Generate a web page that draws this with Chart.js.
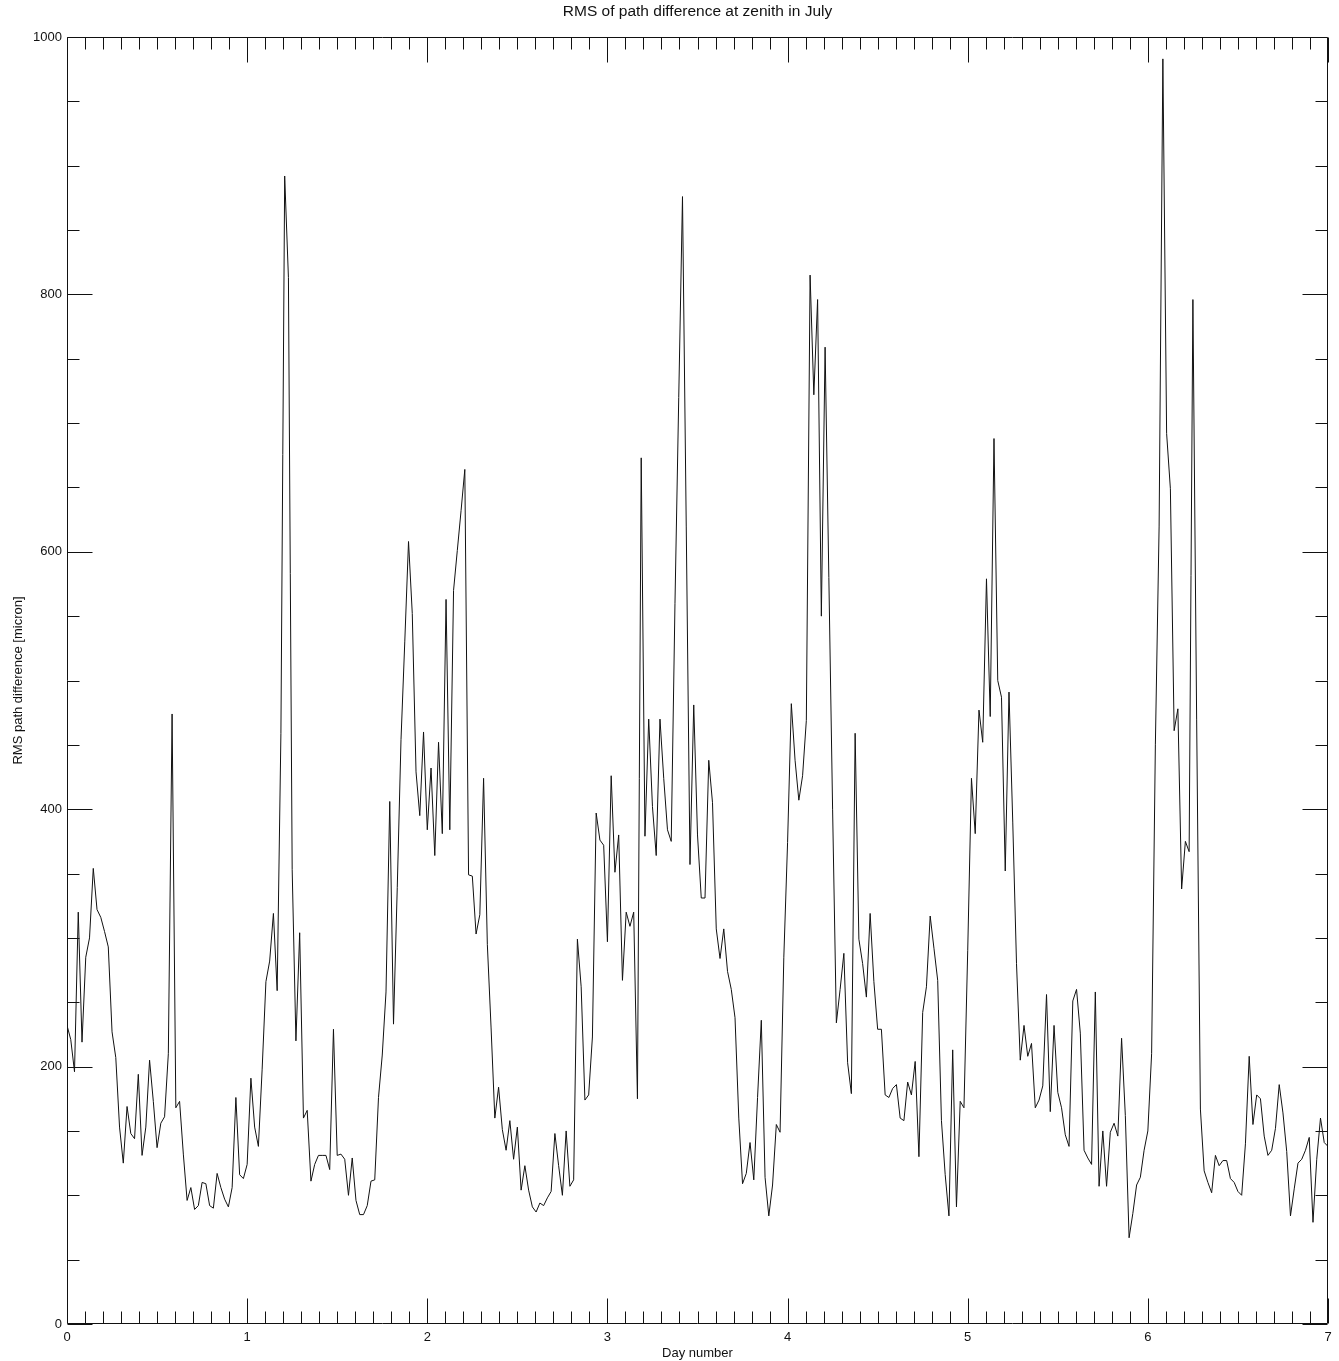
<!DOCTYPE html>
<html>
<head>
<meta charset="utf-8">
<script src="https://cdn.jsdelivr.net/npm/chart.js@4.4.1/dist/chart.umd.min.js"></script>
<style>
  html, body { margin: 0; padding: 0; background: #fff; }
  canvas { display: block; }
</style>
</head>
<body>
<canvas id="rmsChart" width="1339" height="1361"></canvas>
<script>
// RMS path difference, one sample every half hour (48 per day)
const samplesPerDay = 48;
const day0 = [232,221,196,320,219,285,300,354,322,316,305,293,227,207,153,125,169,148,144,194,
  131,153,205,173,137,156,161,210,474,168,173,132,96,106,89,92,110,109,92,90,117,106,97,91,106,176,116,113];
const day1 = [124,191,153,138,198,266,282,319,259,459,892,813,353,220,304,160,166,111,124,131,
  131,131,120,229,131,132,128,100,129,96,85,85,92,111,112,176,209,258,406,233,339,454,530,608,552,429,395,460];
const day2 = [384,432,364,452,381,563,384,570,601,632,664,349,348,303,318,424,295,230,160,184,
  151,135,158,128,153,104,123,104,91,87,94,92,98,103,148,123,100,150,107,112,299,262,174,178,223,397,376,372];
const day3 = [297,426,351,380,267,320,309,320,175,673,379,470,402,364,470,424,384,375,560,720,
  876,620,357,481,380,331,331,438,405,307,284,307,274,260,238,160,109,117,141,112,176,236,114,84,108,155,149,285];
const day4 = [374,482,438,407,426,469,815,722,796,550,759,580,400,234,260,288,203,179,459,299,
  280,254,319,266,229,229,178,176,183,186,160,158,188,178,204,130,242,262,317,292,267,158,116,84,213,91,173,168];
const day5 = [290,424,381,477,452,579,472,688,500,487,352,491,390,280,205,232,208,218,168,174,
  185,256,165,232,180,168,147,138,251,260,226,135,129,124,258,107,150,107,149,156,146,222,162,67,86,108,114,135];
const day6 = [150,210,450,620,983,692,649,461,478,338,375,367,796,470,167,119,110,102,131,123,
  127,127,113,110,103,100,140,208,155,178,175,146,131,135,152,186,164,134,84,105,125,128,135,145,79,128,160,141,138];

const xTickDays = [0,1,2,3,4,5,6,7];
const yTickValues = [0,200,400,600,800,1000];
const xMinorStep = 0.1;
const yMinorStep = 50;

const rms = [].concat(day0, day1, day2, day3, day4, day5, day6);
const points = rms.map((v, i) => ({ x: i / samplesPerDay, y: v }));

const FONT = "'Liberation Sans', Arial, Helvetica, sans-serif";
const INK = '#111';

// IDL style frame with inward ticks on all four sides
const idlTicks = {
  id: 'idlTicks',
  afterDraw(chart) {
    const { ctx, chartArea: a, scales: { x, y } } = chart;
    const L = Math.round(a.left) + 0.5, R = Math.round(a.right) - 0.5;
    const T = Math.round(a.top) + 0.5, B = Math.round(a.bottom) - 0.5;
    const major = 25, minor = 12;
    ctx.save();
    ctx.strokeStyle = INK;
    ctx.lineWidth = 1;
    ctx.beginPath();
    ctx.rect(L, T, R - L, B - T);
    const nx = Math.round((x.max - x.min) / xMinorStep);
    for (let k = 0; k <= nx; k++) {
      const v = x.min + k * xMinorStep;
      const len = xTickDays.some(d => Math.abs(d - v) < 1e-6) ? major : minor;
      const px = Math.round(x.getPixelForValue(v)) + 0.5;
      ctx.moveTo(px, B); ctx.lineTo(px, B - len);
      ctx.moveTo(px, T); ctx.lineTo(px, T + len);
    }
    const ny = Math.round((y.max - y.min) / yMinorStep);
    for (let k = 0; k <= ny; k++) {
      const v = y.min + k * yMinorStep;
      const len = yTickValues.includes(v) ? major : minor;
      const py = Math.round(y.getPixelForValue(v)) + 0.5;
      ctx.moveTo(L, py); ctx.lineTo(L + len, py);
      ctx.moveTo(R, py); ctx.lineTo(R - len, py);
    }
    ctx.stroke();
    ctx.restore();
  }
};

new Chart(document.getElementById('rmsChart'), {
  type: 'line',
  data: {
    datasets: [{
      data: points,
      borderColor: INK,
      borderWidth: 1,
      pointRadius: 0,
      tension: 0,
      fill: false
    }]
  },
  options: {
    responsive: false,
    animation: false,
    devicePixelRatio: 1,
    layout: { padding: { top: 0, right: 11, bottom: 0, left: 0 } },
    plugins: {
      legend: { display: false },
      tooltip: { enabled: false },
      title: {
        display: true,
        fullSize: false,
        text: 'RMS of path difference at zenith in July',
        color: INK,
        font: { family: FONT, size: 15.5, weight: 'normal' },
        padding: { top: 2.5, bottom: 15.9 }
      }
    },
    scales: {
      x: {
        type: 'linear',
        min: 0, max: 7,
        grid: { display: false, drawTicks: false },
        border: { display: false },
        afterBuildTicks: s => { s.ticks = xTickDays.map(v => ({ value: v })); },
        afterFit: s => { s.height = 37; },
        ticks: { color: INK, font: { family: FONT, size: 13 }, padding: 6, maxRotation: 0, autoSkip: false, callback: v => String(v) },
        title: { display: true, text: 'Day number', color: INK, font: { family: FONT, size: 13 }, padding: { top: 0, bottom: 0 } }
      },
      y: {
        type: 'linear',
        min: 0, max: 1000,
        grid: { display: false, drawTicks: false },
        border: { display: false },
        afterBuildTicks: s => { s.ticks = yTickValues.map(v => ({ value: v })); },
        afterFit: s => { s.width = 67; },
        ticks: { color: INK, font: { family: FONT, size: 13 }, padding: 5, autoSkip: false, callback: v => String(v) },
        title: { display: true, text: 'RMS path difference [micron]', color: INK, font: { family: FONT, size: 13 }, padding: { top: 11, bottom: 0 } }
      }
    }
  },
  plugins: [idlTicks]
});
</script>
</body>
</html>
